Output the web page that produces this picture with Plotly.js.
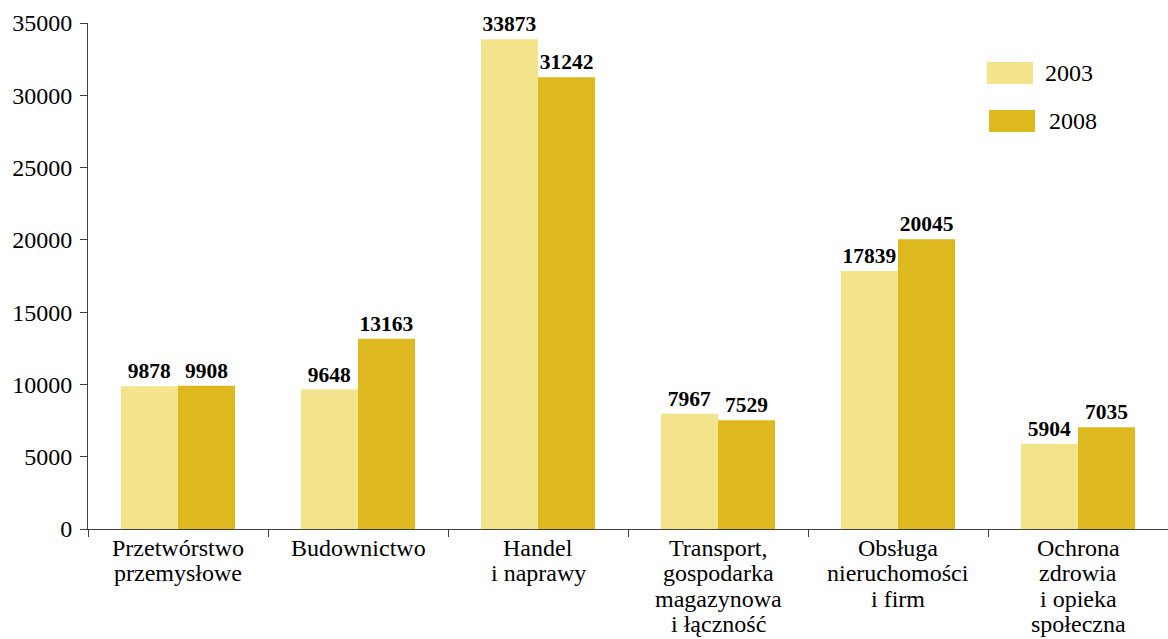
<!DOCTYPE html>
<html>
<head>
<meta charset="utf-8">
<script src="https://cdn.plot.ly/plotly-3.0.1.min.js"></script>
<style>html,body{margin:0;padding:0;background:#fff;}#chart{width:1168px;height:639px;}</style>
</head>
<body>
<div id="chart"></div>
<script>
const categories = [
  "Przetwórstwo<br>przemysłowe",
  "Budownictwo",
  "Handel<br>i naprawy",
  "Transport,<br>gospodarka<br>magazynowa<br>i łączność",
  "Obsługa<br>nieruchomości<br>i firm",
  "Ochrona<br>zdrowia<br>i opieka<br>społeczna"
];
const series2003 = [9878, 9648, 33873, 7967, 17839, 5904];
const series2008 = [9908, 13163, 31242, 7529, 20045, 7035];
const seriesNames = ["2003", "2008"];
const yTicks = [0, 5000, 10000, 15000, 20000, 25000, 30000, 35000];

const colors = ["#F3E48B", "#DDB81E"];
const font = "Liberation Serif";

function barTrace(vals, name, color) {
  return {
    type: "bar", x: categories, y: vals, name: name,
    marker: {color: color, line: {width: 0}},
    text: vals.map(String), textposition: "outside",
    textfont: {family: font, size: 21.5, color: "#000", weight: "bold"},
    cliponaxis: false, showlegend: false, hoverinfo: "x+y"
  };
}

const data = [
  barTrace(series2003, seriesNames[0], colors[0]),
  barTrace(series2008, seriesNames[1], colors[1])
];

// category labels drawn line by line to get the reference's tight line spacing
const catAnnotations = [];
categories.forEach(function (c) {
  c.split("<br>").forEach(function (line, i) {
    catAnnotations.push({
      xref: "x", yref: "paper", x: c, y: 0, yanchor: "middle", xanchor: "center",
      yshift: -(19 + 25.3 * i), text: line, showarrow: false, borderpad: 0,
      font: {family: font, size: 24, color: "#000"}
    });
  });
});

const layout = {
  width: 1168, height: 639,
  margin: {l: 88, r: 0, t: 23, b: 110},
  paper_bgcolor: "#fff", plot_bgcolor: "#fff",
  barmode: "group", bargap: 0.366, bargroupgap: 0,
  font: {family: font, size: 24, color: "#000"},
  xaxis: {
    type: "category", showline: true, linecolor: "#404040", linewidth: 1,
    ticks: "outside", tickson: "boundaries", ticklen: 7, tickcolor: "#404040",
    showticklabels: false, showgrid: false, zeroline: false
  },
  yaxis: {
    range: [0, 35000], tickvals: yTicks, ticktext: yTicks.map(String),
    showline: true, linecolor: "#404040", linewidth: 1,
    ticks: "outside", ticklen: 7, tickcolor: "#404040", ticklabelstandoff: 3,
    tickfont: {family: font, size: 24, color: "#000"}, showgrid: false, zeroline: false
  },
  shapes: [
    {type: "rect", xref: "paper", yref: "paper", x0: 0.8324, x1: 0.875, y0: 0.8794, y1: 0.923,
     fillcolor: colors[0], line: {width: 0}},
    {type: "rect", xref: "paper", yref: "paper", x0: 0.8343, x1: 0.8769, y0: 0.7846, y1: 0.828,
     fillcolor: colors[1], line: {width: 0}}
  ],
  annotations: [
    {xref: "paper", yref: "paper", x: 0.8843, y: 0.901, xanchor: "left", yanchor: "middle",
     text: seriesNames[0], showarrow: false, font: {family: font, size: 24, color: "#000"}},
    {xref: "paper", yref: "paper", x: 0.888, y: 0.8063, xanchor: "left", yanchor: "middle",
     text: seriesNames[1], showarrow: false, font: {family: font, size: 24, color: "#000"}}
  ].concat(catAnnotations)
};

Plotly.newPlot("chart", data, layout, {displayModeBar: false, staticPlot: true});
</script>
</body>
</html>
